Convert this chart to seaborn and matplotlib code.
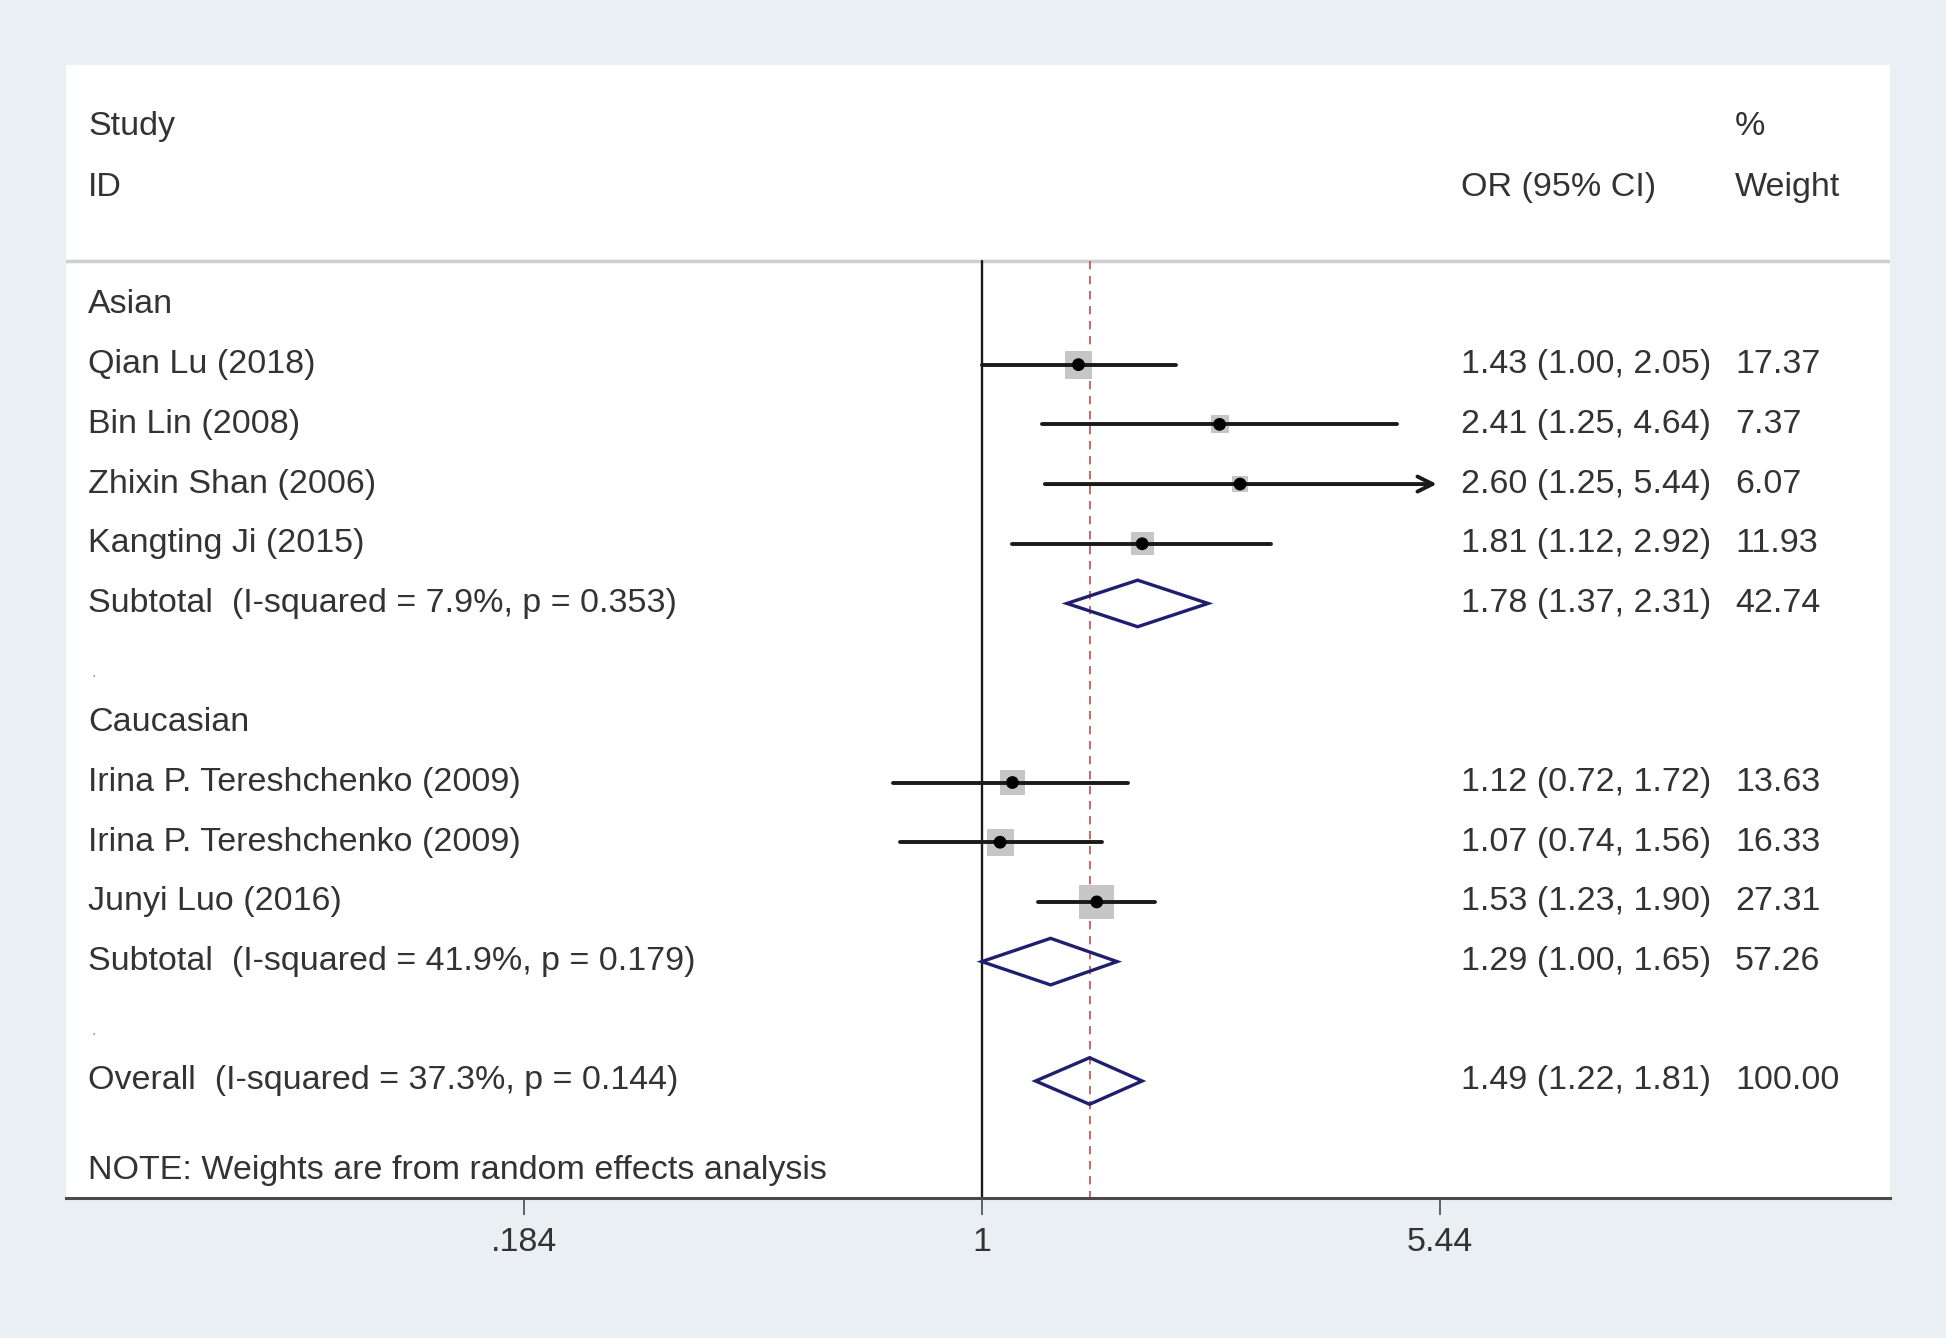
import numpy as np
import pandas as pd
import matplotlib
matplotlib.use("Agg")
import matplotlib.pyplot as plt
import seaborn as sns
from matplotlib.ticker import FixedLocator, FixedFormatter, NullLocator

# Study level data
studies = ["Qian Lu (2018)", "Bin Lin (2008)", "Zhixin Shan (2006)", "Kangting Ji (2015)",
           "Irina P. Tereshchenko (2009)", "Irina P. Tereshchenko (2009)", "Junyi Luo (2016)"]
groups = ["Asian", "Asian", "Asian", "Asian", "Caucasian", "Caucasian", "Caucasian"]
odds = [1.43, 2.41, 2.60, 1.81, 1.12, 1.07, 1.53]
lower = [1.00, 1.25, 1.25, 1.12, 0.72, 0.74, 1.23]
upper = [2.05, 4.64, 5.44, 2.92, 1.72, 1.56, 1.90]
weights = [17.37, 7.37, 6.07, 11.93, 13.63, 16.33, 27.31]

# Subgroup pooled estimates
group_names = ["Asian", "Caucasian"]
sub_or = [1.78, 1.29]
sub_lo = [1.37, 1.00]
sub_hi = [2.31, 1.65]
sub_w = [42.74, 57.26]
sub_i2 = ["7.9%", "41.9%"]
sub_p = ["0.353", "0.179"]

# Overall pooled estimate
overall_or, overall_lo, overall_hi, overall_w = 1.49, 1.22, 1.81, 100.00
overall_i2, overall_p = "37.3%", "0.144"

tick_vals = [0.184, 1, 5.44]
tick_labels = [".184", "1", "5.44"]

sns.set_theme(style="white")
plt.rcParams["font.family"] = ["Liberation Sans", "DejaVu Sans"]

txt_col = "#333333"
fs = 24.5

df = pd.DataFrame({"study": studies, "group": groups, "OR": odds, "lo": lower,
                   "hi": upper, "w": weights})

# row positions: group header, studies, subtotal, blank
r = 0
study_rows, sub_rows, header_rows, blank_rows = [], [], [], []
for g in group_names:
    header_rows.append(r)
    r += 1
    for idx in df.index[df["group"] == g]:
        study_rows.append(r)
        r += 1
    sub_rows.append(r)
    r += 1
    blank_rows.append(r)
    r += 1
overall_row = r
df["row"] = study_rows

fig = plt.figure(figsize=(19.46, 13.38), dpi=100)
fig.patch.set_facecolor("#e9eff2")
ax = fig.add_axes([66 / 1946, 140 / 1338, (1890 - 66) / 1946, (1198 - 65) / 1338])
ax.set_facecolor("white")

ax.set_xscale("log")
ax.set_xlim(np.exp(-3.388), np.exp(3.36))
ax.set_ylim(14.96, -4.02)

# reference lines
ax.plot([1, 1], [-0.74, 14.96], color="#1a1a1a", lw=1.7, zorder=2)
ax.plot([overall_or, overall_or], [-0.74, 14.96], color="#c0504d", lw=1.2,
        ls=(0, (5, 4)), zorder=2)

# weight boxes (area proportional to weight)
sns.scatterplot(data=df, x="OR", y="row", size="w", sizes=(6.07 * 23, 27.31 * 23),
                size_norm=(6.07, 27.31), marker="s", color="#c6c6c6", edgecolor="none",
                legend=False, ax=ax, zorder=3)

# confidence intervals
for _, row in df.iterrows():
    if row["hi"] >= 5.44:
        ax.annotate("", xy=(row["hi"], row["row"]), xytext=(row["lo"], row["row"]),
                    arrowprops=dict(arrowstyle="->,head_length=0.9,head_width=0.45",
                                    color="#1a1a1a", lw=2.8), zorder=4)
    else:
        ax.plot([row["lo"], row["hi"]], [row["row"], row["row"]], color="#1a1a1a",
                lw=2.8, zorder=4)

# point estimates
sns.scatterplot(data=df, x="OR", y="row", s=85, color="#000000", edgecolor="none",
                legend=False, ax=ax, zorder=5)

# diamonds
def diamond(est, lo, hi, y, h=0.39):
    ax.fill([lo, est, hi, est, lo], [y, y - h, y, y + h, y], facecolor="none",
            edgecolor="#1f1f6e", lw=2.4, zorder=5)

for i in range(len(group_names)):
    diamond(sub_or[i], sub_lo[i], sub_hi[i], sub_rows[i])
diamond(overall_or, overall_lo, overall_hi, overall_row)

# text columns
tr = ax.get_yaxis_transform()
x_lab, x_or, x_w = (88 - 66) / 1824, (1461 - 66) / 1824, (1735 - 66) / 1824

def put(x, y, s, **kw):
    ax.text(x, y, s, transform=tr, ha="left", va="center", fontsize=fs, color=txt_col, **kw)

put(x_lab, -2.99, "Study")
put(x_lab, -1.97, "ID")
put(x_or, -1.97, "OR (95% CI)")
put(x_w, -2.99, "%")
put(x_w, -1.97, "Weight")
ax.plot([0, 1], [-0.74, -0.74], transform=tr, color="#cfcfcf", lw=2.5, zorder=1)

for g, hr in zip(group_names, header_rows):
    put(x_lab, hr, g)
for _, row in df.iterrows():
    put(x_lab, row["row"], row["study"])
    put(x_or, row["row"], f"{row['OR']:.2f} ({row['lo']:.2f}, {row['hi']:.2f})")
    put(x_w, row["row"], f"{row['w']:.2f}")
for i in range(len(group_names)):
    put(x_lab, sub_rows[i], f"Subtotal  (I-squared = {sub_i2[i]}, p = {sub_p[i]})")
    put(x_or, sub_rows[i], f"{sub_or[i]:.2f} ({sub_lo[i]:.2f}, {sub_hi[i]:.2f})")
    put(x_w, sub_rows[i], f"{sub_w[i]:.2f}")
for br in blank_rows:
    ax.text(x_lab + 0.002, br + 0.15, ".", transform=tr, ha="left", va="center",
            fontsize=12, color="#9a9a9a")
put(x_lab, overall_row, f"Overall  (I-squared = {overall_i2}, p = {overall_p})")
put(x_or, overall_row, f"{overall_or:.2f} ({overall_lo:.2f}, {overall_hi:.2f})")
put(x_w, overall_row, f"{overall_w:.2f}")
put(x_lab, 14.5, "NOTE: Weights are from random effects analysis")

# axis styling
for side in ["top", "left", "right"]:
    ax.spines[side].set_visible(False)
ax.spines["bottom"].set_color("#4a4a4a")
ax.spines["bottom"].set_linewidth(2.2)
ax.xaxis.set_major_locator(FixedLocator(tick_vals))
ax.xaxis.set_major_formatter(FixedFormatter(tick_labels))
ax.xaxis.set_minor_locator(NullLocator())
ax.tick_params(axis="x", direction="out", length=12, width=1.2, color="#4a4a4a",
               labelsize=fs, labelcolor=txt_col, pad=9, bottom=True)
ax.set_yticks([])
ax.set_xlabel("")
ax.set_ylabel("")

plt.savefig("out.png", dpi=100, facecolor=fig.get_facecolor())
